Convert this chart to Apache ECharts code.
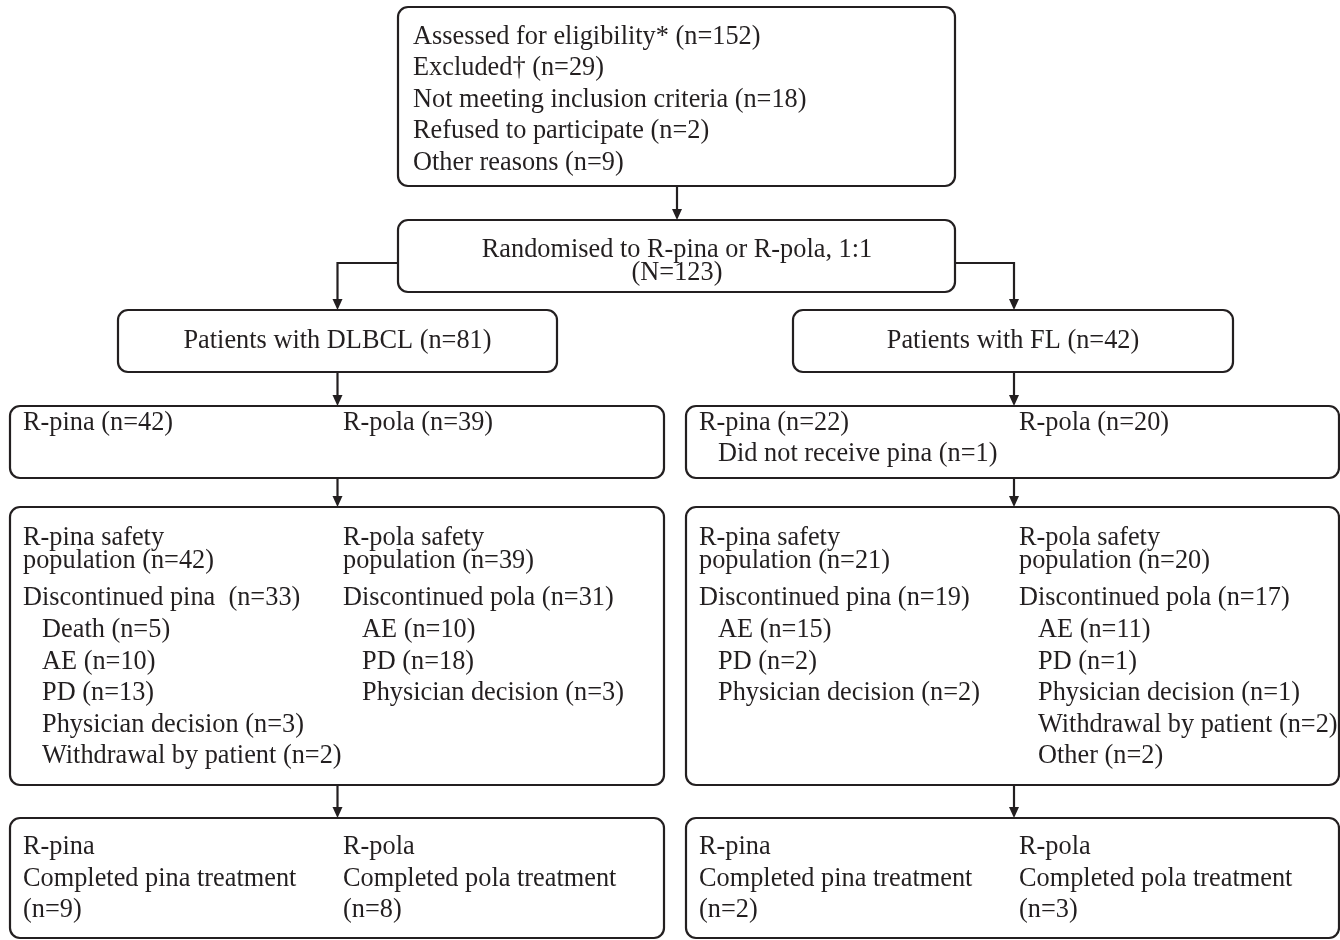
<!DOCTYPE html>
<html>
<head>
<meta charset="utf-8">
<script src="https://cdn.jsdelivr.net/npm/echarts@6/dist/echarts.min.js"></script>
<style>
html,body{margin:0;padding:0;background:#fff;}
#chart{width:1340px;height:940px;}
</style>
</head>
<body>
<div id="chart"></div>
<script>
// ---------------- DATA (text content of the flow diagram) ----------------
const screeningLines = [
  "Assessed for eligibility* (n=152)",
  "Excluded\u2020 (n=29)",
  "Not meeting inclusion criteria (n=18)",
  "Refused to participate (n=2)",
  "Other reasons (n=9)"
];
const randomisedLines = ["Randomised to R-pina or R-pola, 1:1", "(N=123)"];
const dlbclLabel = ["Patients with DLBCL (n=81)"];
const flLabel = ["Patients with FL (n=42)"];

const dlbclPinaAlloc = ["R-pina (n=42)"];
const dlbclPinaAllocNotes = [];
const dlbclPolaAlloc = ["R-pola (n=39)"];
const flPinaAlloc = ["R-pina (n=22)"];
const flPinaAllocNotes = ["Did not receive pina (n=1)"];
const flPolaAlloc = ["R-pola (n=20)"];

const dlbclPinaSafety = ["R-pina safety", "population (n=42)"];
const dlbclPinaDisc = ["Discontinued pina  (n=33)"];
const dlbclPinaReasons = ["Death (n=5)", "AE (n=10)", "PD (n=13)", "Physician decision (n=3)", "Withdrawal by patient (n=2)"];
const dlbclPolaSafety = ["R-pola safety", "population (n=39)"];
const dlbclPolaDisc = ["Discontinued pola (n=31)"];
const dlbclPolaReasons = ["AE (n=10)", "PD (n=18)", "Physician decision (n=3)"];

const flPinaSafety = ["R-pina safety", "population (n=21)"];
const flPinaDisc = ["Discontinued pina (n=19)"];
const flPinaReasons = ["AE (n=15)", "PD (n=2)", "Physician decision (n=2)"];
const flPolaSafety = ["R-pola safety", "population (n=20)"];
const flPolaDisc = ["Discontinued pola (n=17)"];
const flPolaReasons = ["AE (n=11)", "PD (n=1)", "Physician decision (n=1)", "Withdrawal by patient (n=2)", "Other (n=2)"];

const dlbclPinaDone = ["R-pina", "Completed pina treatment", "(n=9)"];
const dlbclPolaDone = ["R-pola", "Completed pola treatment", "(n=8)"];
const flPinaDone = ["R-pina", "Completed pina treatment", "(n=2)"];
const flPolaDone = ["R-pola", "Completed pola treatment", "(n=3)"];

// ---------------- LAYOUT (diagram units = pixels of the 1340x940 canvas) ----------------
const LH = 31.6;   // list line spacing
const WH = 22.5;   // wrapped-line spacing
const colL = [23, 343], colR = [699, 1019], IND = 19;

function blocks(cols, spec) { // spec: [colIdx, lines, y, lineH, indent]
  return spec.map(s => ({x: cols[s[0]] + (s[4] ? IND : 0), y: s[2], lines: s[1], lh: s[3], align: 'left'}));
}

const boxes = [
  {x0: 398, x1: 955, y0: 7, y1: 186,
   blocks: [{x: 413, y: 36.5, lines: screeningLines, lh: LH, align: 'left'}]},
  {x0: 398, x1: 955, y0: 220, y1: 292,
   blocks: [{x: 677, y: 250, lines: randomisedLines, lh: WH, align: 'center'}]},
  {x0: 118, x1: 557, y0: 310, y1: 372,
   blocks: [{x: 337.5, y: 341, lines: dlbclLabel, lh: LH, align: 'center'}]},
  {x0: 793, x1: 1233, y0: 310, y1: 372,
   blocks: [{x: 1013, y: 341, lines: flLabel, lh: LH, align: 'center'}]},
  {x0: 10, x1: 664, y0: 406, y1: 478,
   blocks: blocks(colL, [[0, dlbclPinaAlloc, 423, LH], [0, dlbclPinaAllocNotes, 454, LH, 1], [1, dlbclPolaAlloc, 423, LH]])},
  {x0: 686, x1: 1339, y0: 406, y1: 478,
   blocks: blocks(colR, [[0, flPinaAlloc, 423, LH], [0, flPinaAllocNotes, 454, LH, 1], [1, flPolaAlloc, 423, LH]])},
  {x0: 10, x1: 664, y0: 507, y1: 785,
   blocks: blocks(colL, [[0, dlbclPinaSafety, 538, WH], [0, dlbclPinaDisc, 598, LH], [0, dlbclPinaReasons, 630, LH, 1],
                         [1, dlbclPolaSafety, 538, WH], [1, dlbclPolaDisc, 598, LH], [1, dlbclPolaReasons, 630, LH, 1]])},
  {x0: 686, x1: 1339, y0: 507, y1: 785,
   blocks: blocks(colR, [[0, flPinaSafety, 538, WH], [0, flPinaDisc, 598, LH], [0, flPinaReasons, 630, LH, 1],
                         [1, flPolaSafety, 538, WH], [1, flPolaDisc, 598, LH], [1, flPolaReasons, 630, LH, 1]])},
  {x0: 10, x1: 664, y0: 818, y1: 938,
   blocks: blocks(colL, [[0, dlbclPinaDone, 847, LH], [1, dlbclPolaDone, 847, LH]])},
  {x0: 686, x1: 1339, y0: 818, y1: 938,
   blocks: blocks(colR, [[0, flPinaDone, 847, LH], [1, flPolaDone, 847, LH]])}
];

const connectors = [
  [[677, 186], [677, 220]],
  [[398, 263], [337.5, 263], [337.5, 310]],
  [[955, 263], [1014, 263], [1014, 310]],
  [[337.5, 372], [337.5, 406]],
  [[1014, 372], [1014, 406]],
  [[337.5, 478], [337.5, 507]],
  [[1014, 478], [1014, 507]],
  [[337.5, 785], [337.5, 818]],
  [[1014, 785], [1014, 818]]
];

const INK = '#231f20';
const FONT = '"Liberation Serif", "Times New Roman", serif';
const FS = 27, SX = 0.975;

const chart = echarts.init(document.getElementById('chart'), null, {renderer: 'canvas'});

function renderBox(params, api) {
  const b = boxes[api.value(0)];
  const p0 = api.coord([b.x0, b.y0]);
  const p1 = api.coord([b.x1, b.y1]);
  const children = [{
    type: 'rect',
    shape: {x: p0[0], y: p0[1], width: p1[0] - p0[0], height: p1[1] - p0[1], r: 10},
    style: {fill: '#fff', stroke: INK, lineWidth: 2.2}
  }];
  b.blocks.forEach(bl => {
    bl.lines.forEach((t, i) => {
      const p = api.coord([bl.x, bl.y + i * bl.lh]);
      children.push({
        type: 'text', x: p[0], y: p[1], scaleX: SX,
        style: {text: t, x: 0, y: 0, fill: INK, font: FS + 'px ' + FONT,
                align: bl.align, verticalAlign: 'middle'}
      });
    });
  });
  return {type: 'group', children: children};
}

function renderConnector(params, api) {
  const pts = connectors[api.value(0)].map(q => api.coord(q));
  const end = pts[pts.length - 1];
  const ah = 11, aw = 5;
  const linePts = pts.slice(0, -1).concat([[end[0], end[1] - ah + 1]]);
  return {type: 'group', children: [
    {type: 'polyline', shape: {points: linePts}, style: {stroke: INK, lineWidth: 2.2, fill: null}},
    {type: 'polygon', shape: {points: [[end[0], end[1]], [end[0] - aw, end[1] - ah], [end[0] + aw, end[1] - ah]]},
     style: {fill: INK}}
  ]};
}

chart.setOption({
  animation: false,
  backgroundColor: '#fff',
  grid: {left: 0, right: 0, top: 0, bottom: 0},
  xAxis: {type: 'value', min: 0, max: 1340, show: false},
  yAxis: {type: 'value', min: 0, max: 940, inverse: true, show: false},
  series: [
    {type: 'custom', clip: false, renderItem: renderConnector,
     data: connectors.map((c, i) => [i, 0])},
    {type: 'custom', clip: false, renderItem: renderBox,
     data: boxes.map((b, i) => [i, 0])}
  ]
});
</script>
</body>
</html>
